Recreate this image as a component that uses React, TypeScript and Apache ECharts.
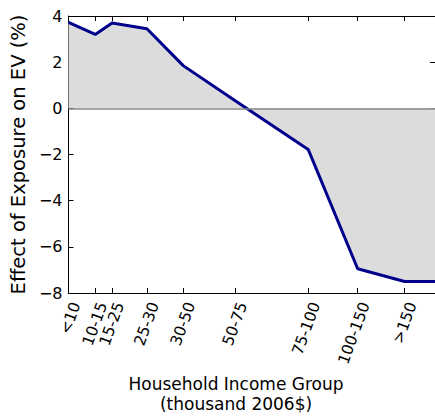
import { useEffect, useRef } from "react";
import * as echarts from "echarts";

// Income groups (thousand 2006$) and where each sits along the horizontal scale (0–100)
const incomeGroups = ["<10", "10-15", "15-25", "25-30", "30-50", "50-75", "75-100", "100-150", ">150"];
const groupPositions = [0, 7.3, 11.9, 21.4, 31.3, 45.5, 65.4, 78.9, 91.7];
// Effect of exposure on EV adoption, percent
const effectOnEV = [3.72, 3.2, 3.7, 3.45, 1.85, 0.33, -1.78, -6.95, -7.5];
// The top group's value is carried on to the right edge of the axis
const xRangeMax = 100;
const tailEffect = -7.5;
// Vertical axis range
const yMin = -8;
const yMax = 4;
const yStep = 2;

const FONT = "DejaVu Sans";

const minus = (v: number) => (v < 0 ? "\u2212" + Math.abs(v) : String(v));

const groupLabel = (v: number) => {
  let best = 0;
  for (let i = 1; i < groupPositions.length; i++) {
    if (Math.abs(groupPositions[i] - v) < Math.abs(groupPositions[best] - v)) best = i;
  }
  return incomeGroups[best];
};

export default function App() {
  const ref = useRef<HTMLDivElement>(null);

  useEffect(() => {
    if (!ref.current) return;
    const chart = echarts.init(ref.current, null, { renderer: "svg" });

    const points: number[][] = groupPositions.map((x, i) => [x, effectOnEV[i]]);
    points.push([xRangeMax, tailEffect]);

    const axisLine = { show: true, onZero: false, lineStyle: { color: "#000", width: 1 } };
    const tickStyle = { color: "#000", width: 1 };

    chart.setOption({
      animation: false,
      backgroundColor: "#fff",
      grid: { left: 67, top: 16, width: 368, height: 277, containLabel: false },
      xAxis: [
        {
          type: "value",
          position: "bottom",
          min: 0,
          max: xRangeMax,
          axisLine,
          axisTick: { show: true, inside: true, length: 5, customValues: groupPositions, lineStyle: tickStyle },
          axisLabel: {
            customValues: groupPositions,
            formatter: (v: number) => groupLabel(v),
            rotate: 70,
            verticalAlign: "top",
            margin: 7,
            fontSize: 15.5,
            fontFamily: FONT,
            color: "#000",
          },
          splitLine: { show: false },
        },
        {
          type: "value",
          position: "top",
          min: 0,
          max: xRangeMax,
          axisLine,
          axisTick: { show: true, inside: true, length: 5, customValues: groupPositions, lineStyle: tickStyle },
          axisLabel: { show: false },
          splitLine: { show: false },
        },
      ],
      yAxis: [
        {
          type: "value",
          position: "left",
          min: yMin,
          max: yMax,
          interval: yStep,
          axisLine,
          axisTick: { show: true, inside: true, length: 5, lineStyle: tickStyle },
          axisLabel: { formatter: minus, margin: 6, fontSize: 16, fontFamily: FONT, color: "#000" },
          splitLine: { show: false },
          name: "Effect of Exposure on EV (%)",
          nameLocation: "middle",
          nameGap: 35,
          nameTextStyle: { fontSize: 19.5, fontFamily: FONT, color: "#000" },
        },
        {
          type: "value",
          position: "right",
          min: yMin,
          max: yMax,
          interval: yStep,
          axisLine,
          axisTick: { show: true, inside: true, length: 5, lineStyle: tickStyle },
          axisLabel: { show: false },
          splitLine: { show: false },
        },
      ],
      graphic: [
        {
          type: "text",
          x: 236,
          y: 374,
          style: {
            text: "Household Income Group\n(thousand 2006$)",
            textAlign: "center",
            textVerticalAlign: "top",
            fontSize: 17,
            lineHeight: 20,
            fontFamily: FONT,
            fill: "#000",
          },
        },
      ],
      series: [
        {
          type: "line",
          xAxisIndex: 0,
          yAxisIndex: 0,
          data: points,
          showSymbol: false,
          symbol: "none",
          lineStyle: { color: "#00008c", width: 3 },
          areaStyle: { color: "#dcdcdc", opacity: 1, origin: 0 },
          z: 3,
          markLine: {
            silent: true,
            symbol: "none",
            label: { show: false },
            lineStyle: { color: "#888", width: 1.5, type: "solid" },
            data: [{ yAxis: 0 }],
          },
        },
      ],
    });

    return () => chart.dispose();
  }, []);

  return (
    <div
      ref={ref}
      style={{ position: "absolute", left: 0, top: 0, width: 435, height: 416 }}
    />
  );
}
